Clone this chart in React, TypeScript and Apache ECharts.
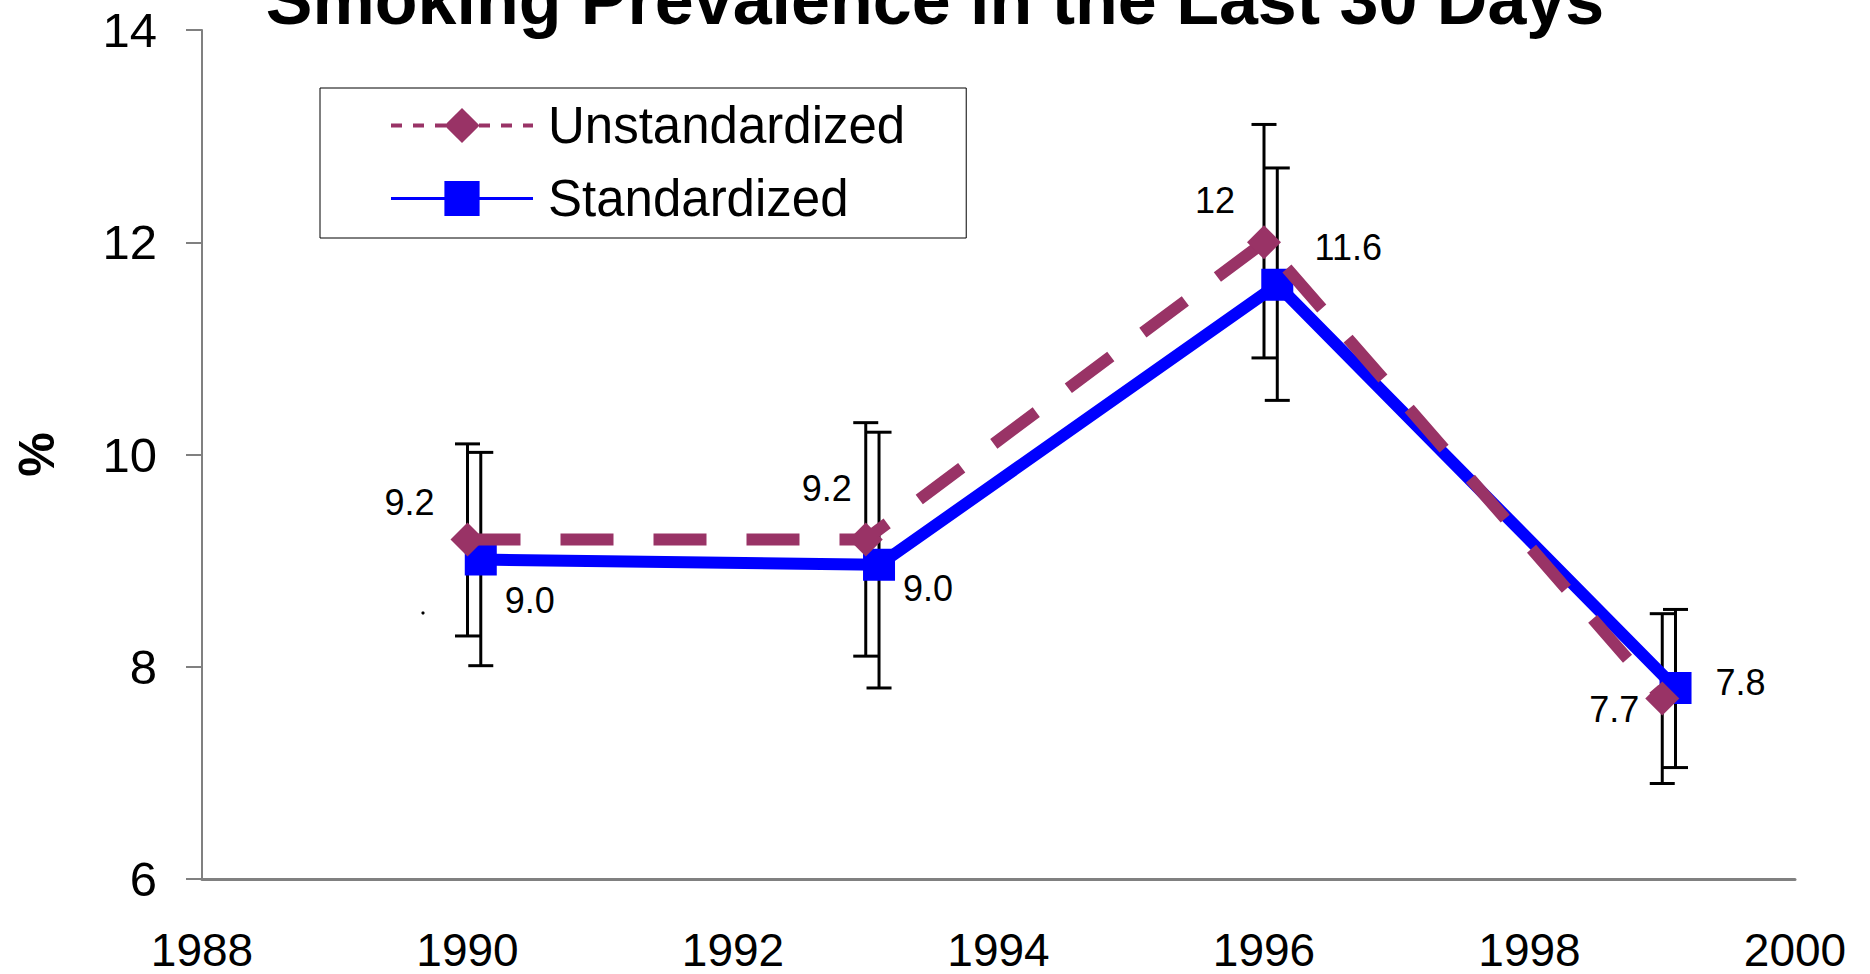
import React, { useEffect, useRef } from "react";
import * as echarts from "echarts";

const FONT = "'Liberation Sans', Arial, Helvetica, sans-serif";

const titleText = "Smoking Prevalence in the Last 30 Days";
const yAxisName = "%";

// Unstandardized series
const unstdName = "Unstandardized";
const unstdYears = [1990, 1993, 1996, 1999];
const unstdValues = [9.2, 9.2, 12.0, 7.7];
const unstdLow = [8.29, 8.1, 10.91, 6.9];
const unstdHigh = [10.1, 10.3, 13.11, 8.5];
const unstdLabelOffsets = [
  [-58, -37],
  [-39, -51],
  [-49, -42],
  [-48, 11],
];

// Standardized series (plotted slightly right of the year)
const stdName = "Standardized";
const stdYears = [1990.1, 1993.1, 1996.1, 1999.1];
const stdValues = [9.01, 8.96, 11.6, 7.8];
const stdLow = [8.01, 7.8, 10.51, 7.05];
const stdHigh = [10.02, 10.21, 12.7, 8.54];
const stdLabelOffsets = [
  [49, 41],
  [49, 24],
  [71, -37],
  [65, -5],
];

const xMin = 1988;
const xMax = 2000;
const xInterval = 2;
const yMin = 6;
const yMax = 14;
const yInterval = 2;

const UNSTD_COLOR = "#993366";
const STD_COLOR = "#0000FF";

function errorBarSeries(name: string, years: number[], low: number[], high: number[], z: number) {
  return {
    type: "custom",
    name: name + " error",
    z,
    silent: true,
    encode: { x: 0, y: [1, 2] },
    data: years.map((y, i) => [y, low[i], high[i]]),
    renderItem: (params: any, api: any) => {
      const x = api.value(0);
      const lo = api.coord([x, api.value(1)]);
      const hi = api.coord([x, api.value(2)]);
      const half = 12.5;
      const style = { stroke: "#000000", lineWidth: 3 };
      return {
        type: "group",
        children: [
          { type: "line", shape: { x1: lo[0], y1: lo[1], x2: hi[0], y2: hi[1] }, style },
          { type: "line", shape: { x1: hi[0] - half, y1: hi[1], x2: hi[0] + half, y2: hi[1] }, style },
          { type: "line", shape: { x1: lo[0] - half, y1: lo[1], x2: lo[0] + half, y2: lo[1] }, style },
        ],
      };
    },
  };
}

export default function App() {
  const ref = useRef<HTMLDivElement>(null);

  useEffect(() => {
    if (!ref.current) return;
    const chart = echarts.init(ref.current, null, { renderer: "svg" });

    const labelStyle = {
      show: true,
      position: "inside",
      fontSize: 36,
      fontFamily: FONT,
      color: "#000000",
    };

    const option: any = {
      animation: false,
      backgroundColor: "#ffffff",
      title: {
        text: titleText,
        left: "center",
        top: -40,
        textStyle: { fontSize: 70, fontWeight: "bold", fontFamily: FONT, color: "#000000" },
      },
      legend: {
        orient: "vertical",
        left: 320,
        top: 88,
        padding: [12, 61, 14, 69],
        itemWidth: 142,
        itemHeight: 44,
        itemGap: 22,
        borderColor: "#000000",
        borderWidth: 1,
        backgroundColor: "#ffffff",
        selectedMode: false,
        textStyle: { fontSize: 51, fontFamily: FONT, color: "#000000", padding: [0, 0, 0, 10] },
        data: [
          { name: unstdName, lineStyle: { width: 4, type: [11, 11], color: UNSTD_COLOR } },
          { name: stdName, lineStyle: { width: 3, type: "solid", color: STD_COLOR } },
        ],
      },
      grid: { left: 202, right: 75, top: 30, bottom: 95, containLabel: false, outerBoundsMode: "none" },
      xAxis: {
        type: "value",
        min: xMin,
        max: xMax,
        interval: xInterval,
        axisLine: { show: true, lineStyle: { color: "#808080", width: 3 } },
        axisTick: { show: false },
        splitLine: { show: false },
        axisLabel: {
          fontSize: 46,
          lineHeight: 46,
          fontFamily: FONT,
          color: "#000000",
          margin: 48,
          formatter: (v: number) => String(v),
        },
      },
      yAxis: {
        type: "value",
        min: yMin,
        max: yMax,
        interval: yInterval,
        name: yAxisName,
        nameLocation: "middle",
        nameRotate: 90,
        nameGap: 140,
        nameTextStyle: { fontSize: 50, fontWeight: "bold", fontFamily: FONT, color: "#000000" },
        axisLine: { show: true, lineStyle: { color: "#808080", width: 2 } },
        axisTick: { show: true, inside: false, length: 16, lineStyle: { color: "#808080", width: 2 } },
        splitLine: { show: false },
        axisLabel: { fontSize: 49, fontFamily: FONT, color: "#000000", margin: 45 },
      },
      graphic: [
        { type: "circle", shape: { cx: 423, cy: 613, r: 1.6 }, style: { fill: "#000000" } },
      ],
      series: [
        errorBarSeries(unstdName, unstdYears, unstdLow, unstdHigh, 1),
        errorBarSeries(stdName, stdYears, stdLow, stdHigh, 1),
        {
          type: "line",
          name: stdName,
          z: 3,
          symbol: "rect",
          symbolSize: 32,
          itemStyle: { color: STD_COLOR },
          lineStyle: { color: STD_COLOR, width: 12, type: "solid" },
          label: {
            ...labelStyle,
            formatter: (p: any) => Number(p.value[1]).toFixed(1),
          },
          data: stdYears.map((y, i) => ({
            value: [y, stdValues[i]],
            label: { offset: stdLabelOffsets[i] },
          })),
        },
        {
          type: "line",
          name: unstdName,
          z: 4,
          symbol: "diamond",
          symbolSize: 34,
          itemStyle: { color: UNSTD_COLOR },
          lineStyle: { color: UNSTD_COLOR, width: 12, type: [53, 40] },
          label: {
            ...labelStyle,
            formatter: (p: any) => String(Number(p.value[1])),
          },
          data: unstdYears.map((y, i) => ({
            value: [y, unstdValues[i]],
            label: { offset: unstdLabelOffsets[i] },
          })),
        },
      ],
    };

    chart.setOption(option);
    return () => chart.dispose();
  }, []);

  return (
    <div
      ref={ref}
      style={{ position: "fixed", left: 0, top: 0, width: 1870, height: 974, background: "#fff" }}
    />
  );
}
